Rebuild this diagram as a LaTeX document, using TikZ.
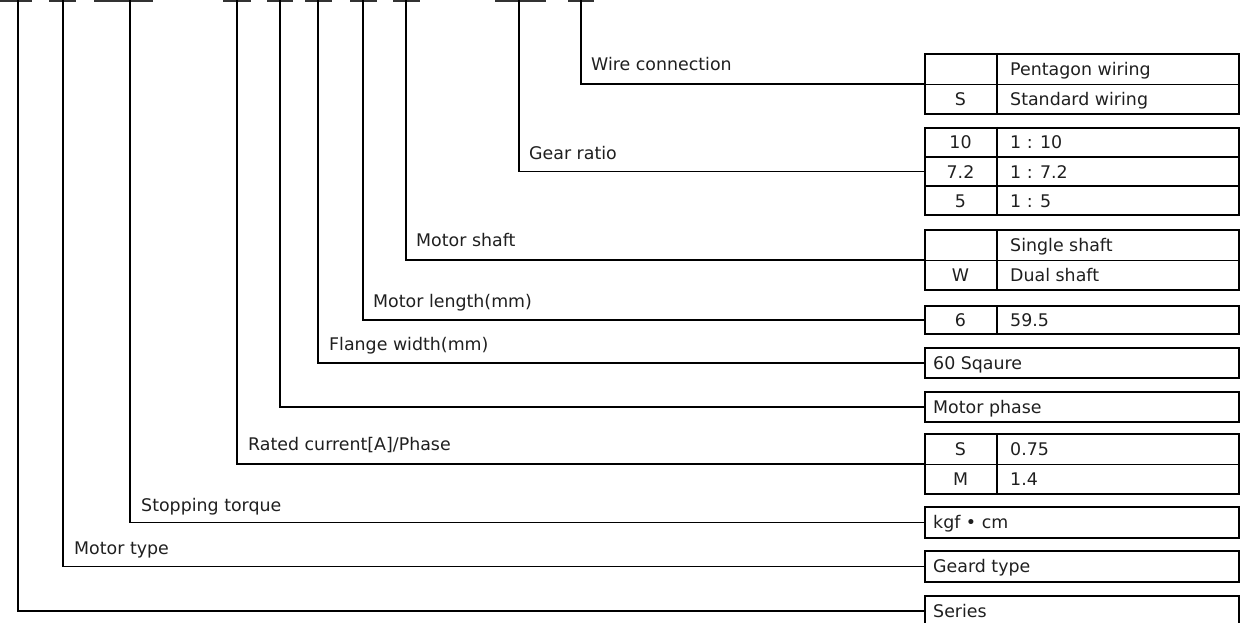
\documentclass[tikz,border=0pt]{standalone}
\usepackage{fontspec}
\setmainfont{DejaVu Sans}
\begin{document}
\begin{tikzpicture}[x=1pt,y=-1pt,
  every node/.style={font=\fontsize{17.4}{20}\selectfont, inner sep=0pt, text=black!88},
  tabbox/.style={draw, line width=2.2pt, anchor=north west, minimum width=314pt},
  rule/.style={line width=1.1pt},
  conn/.style={line width=1.3pt},
  topbar/.style={line width=2.2pt, draw=black!80},
  lab/.style={anchor=base west},
  code/.style={anchor=base},
  desc/.style={anchor=base west}]
\useasboundingbox (0,0) rectangle (1242,623);
\clip (0,0) rectangle (1242,623);

% top bars
\foreach \a/\b in {0/32,49/76,94/153,223/251,267/293,305/332,350/377,393/420,495/546,568/594}
  \draw[topbar] (\a,1) -- (\b,1);

% top coordinates of verticals
\coordinate (tseries) at (18,0);
\coordinate (ttype)   at (63,0);
\coordinate (ttorque) at (130,0);
\coordinate (trated)  at (237,0);
\coordinate (tphase)  at (280,0);
\coordinate (tflange) at (318,0);
\coordinate (tlength) at (363,0);
\coordinate (tshaft)  at (406,0);
\coordinate (tgear)   at (519,0);
\coordinate (twire)   at (581,0);

% tables
\node[tabbox, minimum height=60pt] (wire)   at (924,53)  {};
\node[tabbox, minimum height=87pt] (gear)   at (924,127) {};
\node[tabbox, minimum height=60pt] (shaft)  at (924,229) {};
\node[tabbox, minimum height=28pt] (length) at (924,305) {};
\node[tabbox, minimum height=30pt] (flange) at (924,347) {};
\node[tabbox, minimum height=30pt] (phase)  at (924,391) {};
\node[tabbox, minimum height=60pt] (rated)  at (924,433) {};
\node[tabbox, minimum height=31pt] (torque) at (924,506) {};
\node[tabbox, minimum height=31pt] (mtype)  at (924,550) {};
\node[tabbox, minimum height=30pt] (series) at (924,595) {};

% inner rules
\draw[rule] (wire.west) -- (wire.east);
\draw[rule] (997,53) -- (997,113);
\draw[rule] (924,157) -- (1238,157);
\draw[rule] (924,186) -- (1238,186);
\draw[rule] (997,127) -- (997,214);
\draw[rule] (shaft.west) -- (shaft.east);
\draw[rule] (997,229) -- (997,289);
\draw[rule] (997,305) -- (997,333);
\draw[rule] (rated.west) -- (rated.east);
\draw[rule] (997,433) -- (997,493);

% table texts
\node[desc] at (1010,75.5) {Pentagon wiring};
\node[code] at (960.5,105.5) {S};
\node[desc] at (1010,105.5) {Standard wiring};
\node[code] at (960.5,149) {10};
\node[desc] at (1010,149) {1 : 10};
\node[code] at (960.5,178.5) {7.2};
\node[desc] at (1010,178.5) {1 : 7.2};
\node[code] at (960.5,207) {5};
\node[desc] at (1010,207) {1 : 5};
\node[desc] at (1010,251.5) {Single shaft};
\node[code] at (960.5,281.5) {W};
\node[desc] at (1010,281.5) {Dual shaft};
\node[code] at (960.5,326) {6};
\node[desc] at (1010,326) {59.5};
\node[desc] at (933,369) {60 Sqaure};
\node[desc] at (933,413) {Motor phase};
\node[code] at (960.5,455) {S};
\node[desc] at (1010,455) {0.75};
\node[code] at (960.5,485) {M};
\node[desc] at (1010,485) {1.4};
\node[desc] at (933,528.5) {kgf • cm};
\node[desc] at (933,572.5) {Geard type};
\node[desc] at (933,617) {Series};

% labels
\node[lab] (lwire)   at (591,71)  {Wire connection};
\node[lab] (lgear)   at (529,159) {Gear ratio};
\node[lab] (lshaft)  at (416,246) {Motor shaft};
\node[lab] (llength) at (373,307) {Motor length(mm)};
\node[lab] (lflange) at (329,350) {Flange width(mm)};
\node[lab] (lrated)  at (248,450) {Rated current[A]/Phase};
\node[lab] (ltorque) at (141,511) {Stopping torque};
\node[lab] (ltype)   at (74,554)  {Motor type};

% connectors
\draw[conn] (twire)   |- (wire.west);
\draw[conn] (tgear)   |- (gear.west);
\draw[conn] (tshaft)  |- (shaft.west);
\draw[conn] (tlength) |- (length.west);
\draw[conn] (tflange) |- (flange.west);
\draw[conn] (tphase)  |- (phase.west);
\draw[conn] (trated)  |- (rated.west);
\draw[conn] (ttorque) |- (torque.west);
\draw[conn] (ttype)   |- (mtype.west);
\draw[conn] (tseries) |- (series.west);
\end{tikzpicture}
\end{document}
